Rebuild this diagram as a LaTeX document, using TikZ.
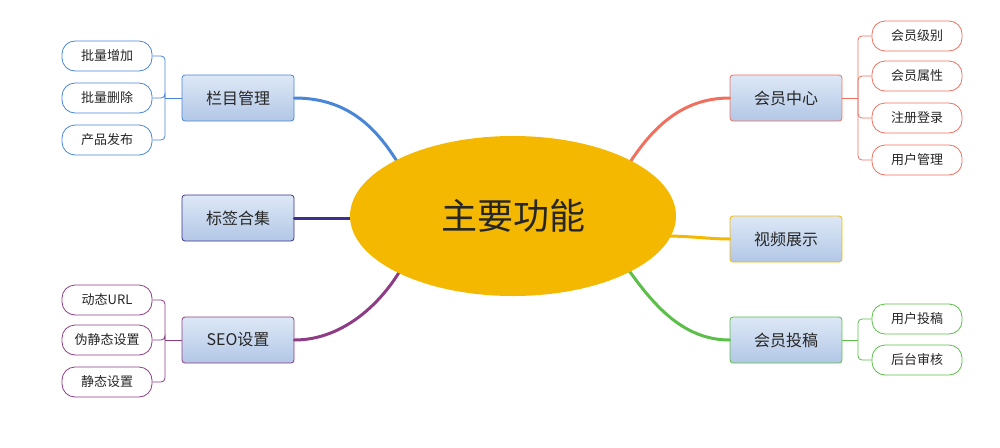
\documentclass[tikz,border=0pt]{standalone}
\usepackage{fontspec}
\setmainfont{Noto Sans CJK SC}
\usetikzlibrary{shapes.geometric}
\definecolor{cgold}{HTML}{F5B800}
\definecolor{cblue}{HTML}{4A86D8}
\definecolor{cindigo}{HTML}{3B2F8F}
\definecolor{cpurp}{HTML}{8E3C86}
\definecolor{cred}{HTML}{F07060}
\definecolor{cgreen}{HTML}{5CBF4A}
\definecolor{btop}{HTML}{DDE8F6}
\definecolor{bbot}{HTML}{B2C7E6}
\tikzset{
 mainbox/.style={draw=#1, rounded corners=3pt, minimum width=112pt, minimum height=46pt, top color=btop, bottom color=bbot, font=\fontsize{16}{18}\selectfont, text=black!85, line width=0.8pt},
 leaf/.style={draw=#1, rounded corners=13pt, minimum width=90pt, minimum height=30pt, fill=white, font=\fontsize{13}{15}\selectfont, text=black!85, line width=0.8pt},
 branch/.style={draw=#1, line width=3pt, line cap=round},
 brk/.style={draw=#1, line width=0.8pt}
}
\begin{document}
\begin{tikzpicture}[x=1pt,y=-1pt]
\useasboundingbox (0,0) rectangle (1000,447);
% branches (behind ellipse)
\node[mainbox=cblue] (a) at (238,98) {栏目管理};
\node[mainbox=cindigo] (b) at (238,218) {标签合集};
\node[mainbox=cpurp] (s) at (238,340) {SEO设置};
\node[mainbox=cred] (m) at (786,98) {会员中心};
\node[mainbox=cgold] (v) at (786,239) {视频展示};
\node[mainbox=cgreen] (t) at (786,340) {会员投稿};
\coordinate (ca) at (405,175);
\coordinate (cb) at (360,218);
\coordinate (cs) at (405,262);
\coordinate (cm) at (625,170);
\coordinate (cv) at (665,236);
\coordinate (ct2) at (625,265);
\draw[branch=cblue] (a.east) .. controls (350,98) and (380,130) .. (ca);
\draw[branch=cindigo] (b.east) -- (cb);
\draw[branch=cpurp] (s.east) .. controls (345,340) and (385,300) .. (cs);
\draw[branch=cred] (m.west) .. controls (680,98) and (650,130) .. (cm);
\draw[branch=cgold] (v.west) .. controls (710,239) and (690,236) .. (cv);
\draw[branch=cgreen] (t.west) .. controls (680,340) and (650,300) .. (ct2);
\node[ellipse, fill=cgold, minimum width=326pt, minimum height=160pt, inner sep=0pt, font=\fontsize{36}{40}\selectfont, text=black!85] (c) at (513,216) {主要功能};
% leaves
\node[leaf=cblue] (a1) at (107,56) {批量增加};
\node[leaf=cblue] (a2) at (107,98) {批量删除};
\node[leaf=cblue] (a3) at (107,140) {产品发布};
\node[leaf=cpurp] (s1) at (107,300) {动态URL};
\node[leaf=cpurp] (s2) at (107,340) {伪静态设置};
\node[leaf=cpurp] (s3) at (107,382) {静态设置};
\node[leaf=cred] (m1) at (917,36) {会员级别};
\node[leaf=cred] (m2) at (917,76) {会员属性};
\node[leaf=cred] (m3) at (917,118) {注册登录};
\node[leaf=cred] (m4) at (917,160) {用户管理};
\node[leaf=cgreen] (t1) at (917,319) {用户投稿};
\node[leaf=cgreen] (t2) at (917,360) {后台审核};
% brackets
\coordinate (ak) at (165,98);
\coordinate (sk) at (165,340);
\coordinate (mk) at (858,98);
\coordinate (tk) at (858,340);
\draw[brk=cblue] (a.west) -- (ak);
\foreach \l in {a1,a2,a3} \draw[brk=cblue,rounded corners=4pt] (ak) |- (\l.east);
\draw[brk=cpurp] (s.west) -- (sk);
\foreach \l in {s1,s2,s3} \draw[brk=cpurp,rounded corners=4pt] (sk) |- (\l.east);
\draw[brk=cred] (m.east) -- (mk);
\foreach \l in {m1,m2,m3,m4} \draw[brk=cred,rounded corners=4pt] (mk) |- (\l.west);
\draw[brk=cgreen] (t.east) -- (tk);
\foreach \l in {t1,t2} \draw[brk=cgreen,rounded corners=4pt] (tk) |- (\l.west);
\end{tikzpicture}
\end{document}
